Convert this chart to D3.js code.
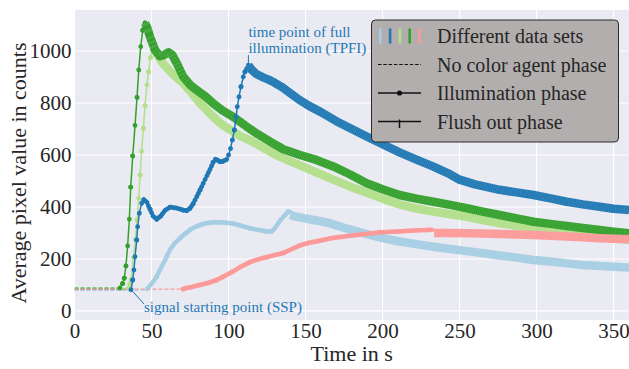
<!DOCTYPE html>
<html><head><meta charset="utf-8">
<script src="https://cdn.jsdelivr.net/npm/d3@7"></script>
<style>body{margin:0;background:#fff}svg{display:block}</style>
</head><body><svg id="c" width="629" height="369"></svg>
<script>
// ---------- data (time in s, average pixel value) ----------
const xTicks = [0, 50, 100, 150, 200, 250, 300, 350];
const yTicks = [0, 200, 400, 600, 800, 1000];

const setNames = ["light blue", "dark blue", "light green", "dark green", "pink"];
const setColors = ["#a6cee3", "#1f78b4", "#b2df8a", "#33a02c", "#fb9a99"];

// No color agent phase (start, end)
const lightBlueBase  = [[0, 80], [47.2, 80]];
const darkBlueBase   = [[0, 82], [36.7, 82]];
const lightGreenBase = [[0, 87], [35, 87]];
const darkGreenBase  = [[0, 88], [29.5, 88]];
const pinkBase       = [[0, 84], [70.5, 84]];

// Illumination phase
const darkGreenIllum = [[29.5,88],[31.2,105],[32.3,126],[33.4,173],[34.5,250],[35.6,353],[36.5,476],[37.8,596],[39.3,714],[40.6,822],[41.7,927],[43.0,1017],[44.3,1080],[45.8,1108]];
const lightGreenIllum = [[35,87],[36.8,120],[38.2,205],[39.5,275],[40.6,350],[41.7,433],[42.6,523],[43.6,615],[44.7,703],[45.8,790],[47.0,870],[48.1,920],[49.3,975],[50.4,1003],[51.5,1012]];
const darkBlueIllum = [[36.7,82],[37.8,119],[38.6,158],[39.3,209],[40.4,273],[41.0,324],[42.1,376],[43.6,414],[45.0,428],[47,418],[49,392],[51,365],[53.4,353],[56,365],[59,388],[62,399],[66,396],[70.6,388],[73,386],[75,395],[77,412],[79.4,440],[81.5,465],[83.6,491],[86,520],[88,545],[90,572],[91.5,583],[93,580],[94.5,574],[96.5,576],[98.8,583],[100,600],[101.3,625],[102.5,658],[103.8,696],[104.9,747],[105.7,786],[106.8,824],[108.1,863],[109.6,901],[110.7,920],[112.9,946]];
const lightBlueIllum = [[47.2,85],[48.2,91],[50.5,108],[53.4,132],[55.5,158],[57.7,183],[60,210],[62,235],[65,260],[68.5,280],[72,298],[75,312],[79,325],[83.6,335],[88,340],[92.3,341],[97,340],[103,336],[108,328],[114,318],[120,311],[125,306],[128,306],[130,318],[132,335],[134,352],[136.7,369],[138.8,382],[140,380]];
const pinkIllum = [[70.5,84],[71.8,87],[76,92],[81.5,100],[87,108],[92.3,119],[97,133],[103,152],[108,170],[114,188],[119,198],[124.8,207],[130,215],[135.6,223],[140,235],[146.4,252],[152,262],[157.3,268],[166,279],[177,288],[187.5,295],[198,302],[211,306],[222,310],[232,312]];

// Flush out phase
const darkGreenFlush = [[45.8,1108],[47.5,1085],[49,1055],[52.3,1004],[55.5,980],[58,984],[61,995],[63.5,985],[66.4,953],[70.6,901],[75,870],[79.3,850],[85,825],[90,799],[96,772],[103,747],[111.8,709],[119,680],[127,651],[135.6,622],[146.4,600],[157,581],[168,556],[179,525],[189.7,491],[200,468],[211,446],[222,432],[233,420],[244,408],[254.7,395],[265,382],[276,369],[287,356],[298,343],[309,335],[319.6,327],[330,319],[341,311],[350,305],[360,299]];
const lightGreenFlush = [[51.5,1012],[54,985],[57,955],[60,935],[65,905],[70.6,876],[76,840],[81.5,799],[87,765],[92.3,735],[97,712],[103,690],[108,672],[114,656],[120,637],[124.8,620],[130,603],[135.6,587],[146.4,560],[157,533],[168,505],[179,478],[190,455],[200,432],[211,410],[222,394],[233,382],[244,372],[254.7,362],[265,350],[276,337],[287,328],[298,320],[309,312],[319.6,305],[330,296],[341,287],[350,280],[360,273]];
const darkBlueFlush = [[112.9,946],[115,928],[118,912],[122,900],[126,890],[130,878],[135,860],[140,838],[146,812],[152,790],[160,765],[170,730],[180,700],[190,670],[198,647],[211,610],[222,582],[233,555],[244,525],[250,505],[260,487],[276,466],[287,456],[298,446],[309,433],[319.6,420],[330,410],[341,401],[350,393],[360,388]];
const lightBlueFlush = [[140,369],[143,364],[148.6,357],[155,350],[160,345],[166,337],[175,320],[187.5,299],[200,280],[210,268],[222,257],[233,247],[244,238],[255,230],[265.5,222],[276,213],[287,205],[298,196],[309,190],[320,183],[330,177],[341,173],[350,170],[360,167]];
const pinkFlush = [[233.5,300],[244,300],[254.7,299],[265,298],[276,296],[287,294],[298,292],[309,289],[320,286],[330,283],[341,280],[350,278],[360,276]];

const legendLabels = ["Different data sets", "No color agent phase", "Illumination phase", "Flush out phase"];
const tpfiPoint = [112.9, 946];
const sspPoint = [36.7, 82];

// ---------- layout ----------
const W = 629, H = 369;
const L = 74.5, R = 629, T = 10, B = 320;
const FONT = '"Liberation Serif","Times New Roman",serif';
const TXT = "#262626";

const svg = d3.select("#c");
const x = d3.scaleLinear().domain([0, 360]).range([L, R]);
const y = d3.scaleLinear().domain([-35, 1158]).range([B, T]);

svg.append("rect").attr("x", L).attr("y", T).attr("width", R - L).attr("height", B - T).attr("fill", "#eaeaf2");

// grid
svg.append("g").selectAll("line").data(xTicks).join("line")
  .attr("x1", d => x(d)).attr("x2", d => x(d)).attr("y1", T).attr("y2", B)
  .attr("stroke", "#fff").attr("stroke-width", 1.1);
svg.append("g").selectAll("line").data(yTicks).join("line")
  .attr("x1", L).attr("x2", R).attr("y1", d => y(d)).attr("y2", d => y(d))
  .attr("stroke", "#fff").attr("stroke-width", 1.1);

// axes (labels only, seaborn style)
const xAxis = svg.append("g").attr("transform", `translate(0,${B})`)
  .call(d3.axisBottom(x).tickValues(xTicks).tickSize(0).tickPadding(18).tickFormat(d3.format("d")));
const yAxis = svg.append("g").attr("transform", `translate(${L},0)`)
  .call(d3.axisLeft(y).tickValues(yTicks).tickSize(0).tickPadding(3).tickFormat(d3.format("d")));
[xAxis, yAxis].forEach(a => {
  a.select(".domain").remove();
  a.attr("font-family", FONT).attr("font-size", 21);
  a.selectAll("text").attr("font-family", FONT).attr("font-size", 21).attr("fill", TXT);
});
yAxis.selectAll("text").attr("dy", "0.33em");
xAxis.selectAll("text").attr("dy", "0em");

svg.append("text").attr("x", (L + R) / 2).attr("y", 361).attr("text-anchor", "middle")
  .attr("font-family", FONT).attr("font-size", 22).attr("fill", TXT).text("Time in s");
svg.append("text").attr("transform", "translate(26,173) rotate(-90)").attr("text-anchor", "middle")
  .attr("font-family", FONT).attr("font-size", 22).attr("fill", TXT).text("Average pixel value in counts");

// ---------- series ----------
svg.append("clipPath").attr("id", "pc").append("rect")
  .attr("x", L).attr("y", T).attr("width", R - L).attr("height", B - T);
const plot = svg.append("g").attr("clip-path", "url(#pc)");
const line = d3.line().x(d => x(d[0])).y(d => y(d[1]));
const STEP = 1.15; // approximate sampling interval in s

function drawBase(g, pts, color) {
  g.append("path").datum(pts).attr("d", line).attr("fill", "none")
    .attr("stroke", color).attr("stroke-width", 1.3).attr("stroke-dasharray", "4,2");
}
function drawIllum(g, pts, color) {
  g.append("path").datum(pts).attr("d", line).attr("fill", "none")
    .attr("stroke", color).attr("stroke-width", 1.5);
  for (let i = 0; i < pts.length - 1; i++) {
    const a = pts[i], b = pts[i + 1];
    const k = Math.max(1, Math.round((b[0] - a[0]) / STEP));
    const len = Math.hypot(x(b[0]) - x(a[0]), y(b[1]) - y(a[1]));
    const per = Math.max(0.02, len / k);
    g.append("path").datum([a, b]).attr("d", line).attr("fill", "none")
      .attr("stroke", color).attr("stroke-width", 4.8).attr("stroke-linecap", "round")
      .attr("stroke-dasharray", `0.01 ${per - 0.01}`);
  }
  const last = pts[pts.length - 1];
  g.append("circle").attr("cx", x(last[0])).attr("cy", y(last[1])).attr("r", 2.4).attr("fill", color);
}
function drawFlush(g, pts, color) {
  g.append("path").datum(pts).attr("d", line).attr("fill", "none")
    .attr("stroke", color).attr("stroke-width", 8.5).attr("stroke-linejoin", "round");
  for (let i = 0; i < pts.length - 1; i++) {
    const a = pts[i], b = pts[i + 1];
    const k = Math.max(1, Math.round((b[0] - a[0]) / STEP));
    const len = Math.hypot(x(b[0]) - x(a[0]), y(b[1]) - y(a[1]));
    const per = len / k;
    g.append("path").datum([a, b]).attr("d", line).attr("fill", "none")
      .attr("stroke", "#ffffff").attr("stroke-opacity", 0.12).attr("stroke-width", 8.5)
      .attr("stroke-dasharray", `${per * 0.4} ${per * 0.6}`);
  }
}

const bases = [lightBlueBase, darkBlueBase, lightGreenBase, darkGreenBase, pinkBase];
const illums = [lightBlueIllum, darkBlueIllum, lightGreenIllum, darkGreenIllum, pinkIllum];
const flushes = [lightBlueFlush, darkBlueFlush, lightGreenFlush, darkGreenFlush, pinkFlush];
const order = [2, 3, 1, 0, 4];
order.forEach(i => drawBase(plot, bases[i], setColors[i]));
order.forEach(i => {
  const g = plot.append("g");
  drawIllum(g, illums[i], setColors[i]);
  drawFlush(g, flushes[i], setColors[i]);
});

// ---------- annotations ----------
const ANN = "#1f78b4";
svg.append("line").attr("x1", x(tpfiPoint[0])).attr("y1", y(tpfiPoint[1]) - 1)
  .attr("x2", x(tpfiPoint[0])).attr("y2", 55).attr("stroke", ANN).attr("stroke-width", 1);
const tp = svg.append("text").attr("font-family", FONT).attr("font-size", 15).attr("fill", ANN);
tp.append("tspan").attr("x", x(tpfiPoint[0])).attr("y", 37).text("time point of full");
tp.append("tspan").attr("x", x(tpfiPoint[0])).attr("y", 53).text("illumination (TPFI)");

svg.append("line").attr("x1", x(sspPoint[0])).attr("y1", y(sspPoint[1]))
  .attr("x2", 144).attr("y2", 304).attr("stroke", ANN).attr("stroke-width", 1);
svg.append("text").attr("x", 144).attr("y", 312).attr("font-family", FONT).attr("font-size", 15)
  .attr("fill", ANN).text("signal starting point (SSP)");

// ---------- legend ----------
const lg = svg.append("g");
lg.append("rect").attr("x", 371.5).attr("y", 20).attr("width", 247).attr("height", 122).attr("rx", 4)
  .attr("fill", "#b3aeae").attr("stroke", "#2a2a2a").attr("stroke-width", 1);
const rowY = [36, 64.5, 93, 121.5];
const hx0 = 378, hx1 = 421;
lg.selectAll("rect.sw").data(setColors).join("rect").attr("class", "sw")
  .attr("x", (d, i) => 379 + i * 9.8).attr("y", rowY[0] - 7.5).attr("width", 2.6).attr("height", 15)
  .attr("fill", d => d);
lg.append("line").attr("x1", hx0).attr("x2", hx1).attr("y1", rowY[1]).attr("y2", rowY[1])
  .attr("stroke", "#111").attr("stroke-width", 1).attr("stroke-dasharray", "3.5,1.8");
lg.append("line").attr("x1", hx0).attr("x2", hx1).attr("y1", rowY[2]).attr("y2", rowY[2])
  .attr("stroke", "#111").attr("stroke-width", 1.3);
lg.append("circle").attr("cx", (hx0 + hx1) / 2).attr("cy", rowY[2]).attr("r", 2.6).attr("fill", "#111");
lg.append("line").attr("x1", hx0).attr("x2", hx1).attr("y1", rowY[3]).attr("y2", rowY[3])
  .attr("stroke", "#111").attr("stroke-width", 1.3);
lg.append("line").attr("x1", (hx0 + hx1) / 2).attr("x2", (hx0 + hx1) / 2).attr("y1", rowY[3] - 2).attr("y2", rowY[3] + 6.5)
  .attr("stroke", "#111").attr("stroke-width", 1.5);
lg.selectAll("text").data(legendLabels).join("text")
  .attr("x", 437).attr("y", (d, i) => rowY[i] + 7).attr("font-family", FONT).attr("font-size", 20)
  .attr("fill", TXT).text(d => d);
</script></body></html>
